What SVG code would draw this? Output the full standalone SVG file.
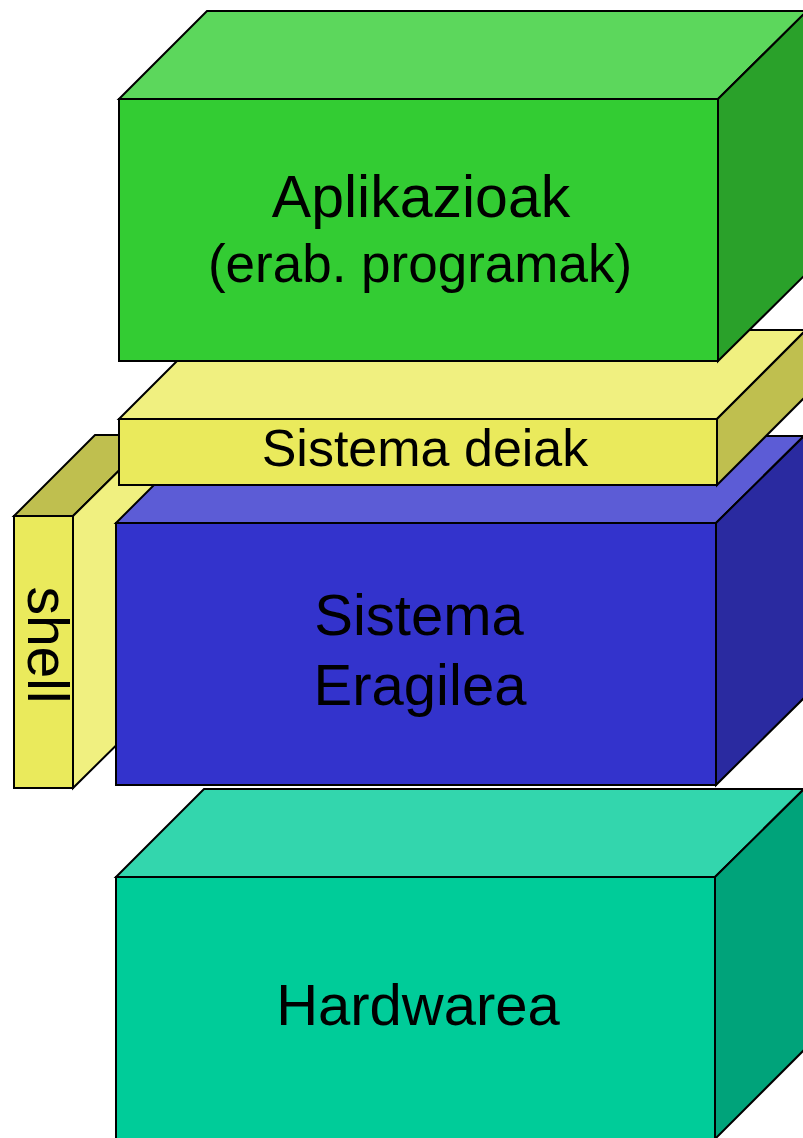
<svg xmlns="http://www.w3.org/2000/svg" width="803" height="1138" viewBox="0 0 803 1138">
<style>
.e{stroke:#000;stroke-width:2;stroke-linejoin:miter}
.t{font-family:"Liberation Sans",Arial,sans-serif;fill:#000;text-anchor:middle}
</style>
<rect width="803" height="1138" fill="#fff"/>
<g id="hardwarea">
<polygon class="e" points="116,877 204,789 804,789 715,877" fill="#33D6AD"/>
<polygon class="e" points="715,877 804,789 804,1050 715,1139" fill="#00A37A"/>
<rect class="e" x="116" y="877" width="599" height="263" fill="#00CC99"/>
<text class="t" x="418" y="1025" font-size="58">Hardwarea</text>
</g>
<g id="shell">
<polygon class="e" points="14,516 95,435 155,435 73,516" fill="#BFBF4F"/>
<polygon class="e" points="73,516 155,435 155,707 73,788" fill="#F0F080"/>
<rect class="e" x="14" y="516" width="59" height="272" fill="#EAEA5C"/>
<text class="t" font-size="57" transform="translate(28,645) rotate(90)">shell</text>
</g>
<g id="sistema-eragilea">
<polygon class="e" points="116,523 203,436 804,436 716,523" fill="#5C5CD6"/>
<polygon class="e" points="716,523 804,436 804,698 716,785" fill="#2A2AA0"/>
<rect class="e" x="116" y="523" width="600" height="262" fill="#3333CC"/>
<text class="t" x="419" y="635" font-size="58">Sistema</text>
<text class="t" x="420" y="705" font-size="58">Eragilea</text>
</g>
<g id="sistema-deiak">
<polygon class="e" points="119,419 208,330 806,330 717,419" fill="#F0F080"/>
<polygon class="e" points="717,419 806,330 806,396 717,485" fill="#BFBF4F"/>
<rect class="e" x="119" y="419" width="598" height="66" fill="#EAEA5C"/>
<text class="t" x="425" y="466" font-size="52">Sistema deiak</text>
</g>
<g id="aplikazioak">
<polygon class="e" points="119,99 207,11 807,11 718,99" fill="#5CD75C"/>
<polygon class="e" points="718,99 807,11 807,273 718,361" fill="#2AA12A"/>
<rect class="e" x="119" y="99" width="599" height="262" fill="#33CC33"/>
<text class="t" x="421" y="217" font-size="59">Aplikazioak</text>
<text class="t" x="420" y="282" font-size="53">(erab. programak)</text>
</g>
<g id="connectors"/>
</svg>
